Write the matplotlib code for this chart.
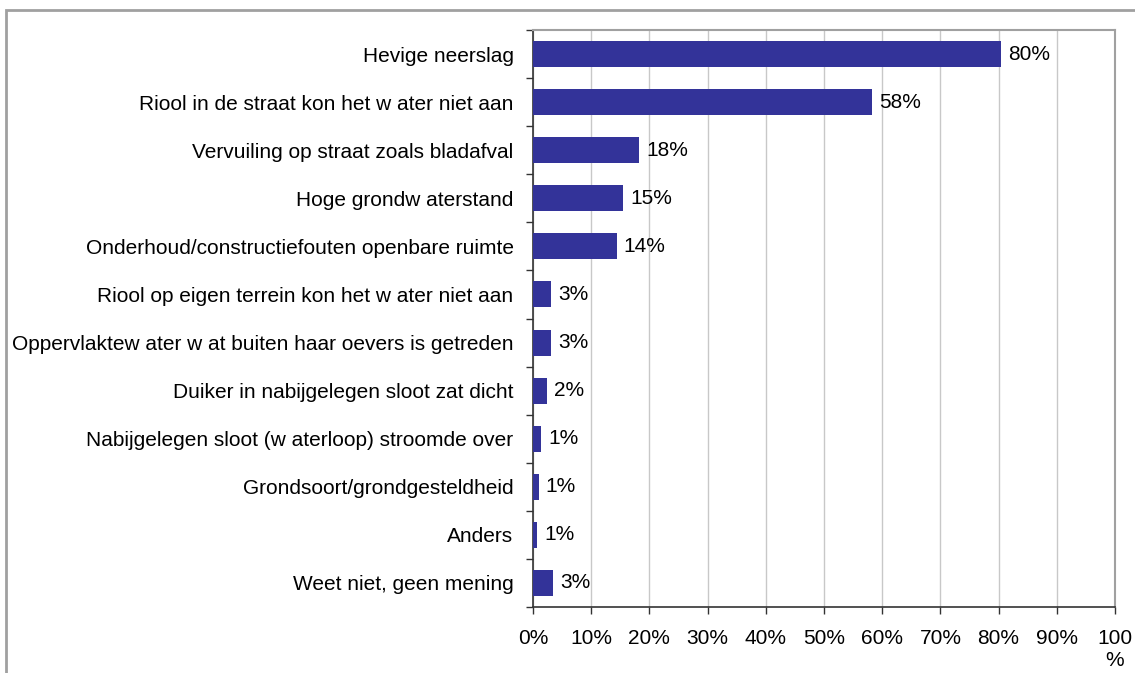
import numpy as np
import matplotlib
matplotlib.use("Agg")
import matplotlib.pyplot as plt
from matplotlib.patches import Rectangle

categories = [
    "Hevige neerslag",
    "Riool in de straat kon het w ater niet aan",
    "Vervuiling op straat zoals bladafval",
    "Hoge grondw aterstand",
    "Onderhoud/constructiefouten openbare ruimte",
    "Riool op eigen terrein kon het w ater niet aan",
    "Oppervlaktew ater w at buiten haar oevers is getreden",
    "Duiker in nabijgelegen sloot zat dicht",
    "Nabijgelegen sloot (w aterloop) stroomde over",
    "Grondsoort/grondgesteldheid",
    "Anders",
    "Weet niet, geen mening",
]
values = [80.4, 58.2, 18.2, 15.5, 14.4, 3.1, 3.1, 2.4, 1.4, 1.0, 0.7, 3.4]
value_labels = ["80%", "58%", "18%", "15%", "14%", "3%", "3%", "2%", "1%", "1%", "1%", "3%"]
x_ticks = [0, 10, 20, 30, 40, 50, 60, 70, 80, 90, 100]
x_ticklabels = ["0%", "10%", "20%", "30%", "40%", "50%", "60%", "70%", "80%", "90%", "100\n%"]

plt.rcParams['font.family'] = ['Liberation Sans', 'DejaVu Sans']
FS = 15

W, H = 1135, 673
fig = plt.figure(figsize=(W / 100, H / 100), dpi=100)
ax = fig.add_axes([533 / W, 1 - 607 / H, (1115 - 533) / W, (607 - 30) / H])

# outer chart frame
fig.patches.append(Rectangle((6 / W, -0.01), 1.02, 1 - 10 / H + 0.01, transform=fig.transFigure,
                             fill=False, edgecolor="#a0a0a0", linewidth=2))

y = np.arange(len(categories))
ax.barh(y, values, height=0.54, color="#333399", zorder=3)
for yi, v, lab in zip(y, values, value_labels):
    ax.text(v + 1.2, yi, lab, va="center", ha="left", fontsize=FS)

ax.set_ylim(len(categories) - 0.5, -0.5)
ax.set_xlim(0, 100)
ax.set_yticks(y)
ax.set_yticklabels(categories, fontsize=FS)
ax.set_yticks(np.arange(-0.5, len(categories)), minor=True)
ax.tick_params(axis="y", which="major", length=0, pad=14)
ax.tick_params(axis="y", which="minor", length=5, width=1, color="#333333")
ax.set_xticks(x_ticks)
ax.set_xticklabels(x_ticklabels, fontsize=FS, va="top", linespacing=1.2)
ax.tick_params(axis="x", length=5, width=1, color="#333333", pad=11)

ax.grid(axis="x", color="#c8c8c8", linewidth=1, zorder=0)
for s in ["left", "bottom"]:
    ax.spines[s].set_color("#333333")
    ax.spines[s].set_linewidth(1.2)
for s in ["top", "right"]:
    ax.spines[s].set_color("#a0a0a0")
    ax.spines[s].set_linewidth(1.5)

fig.savefig("out.png", dpi=100)
